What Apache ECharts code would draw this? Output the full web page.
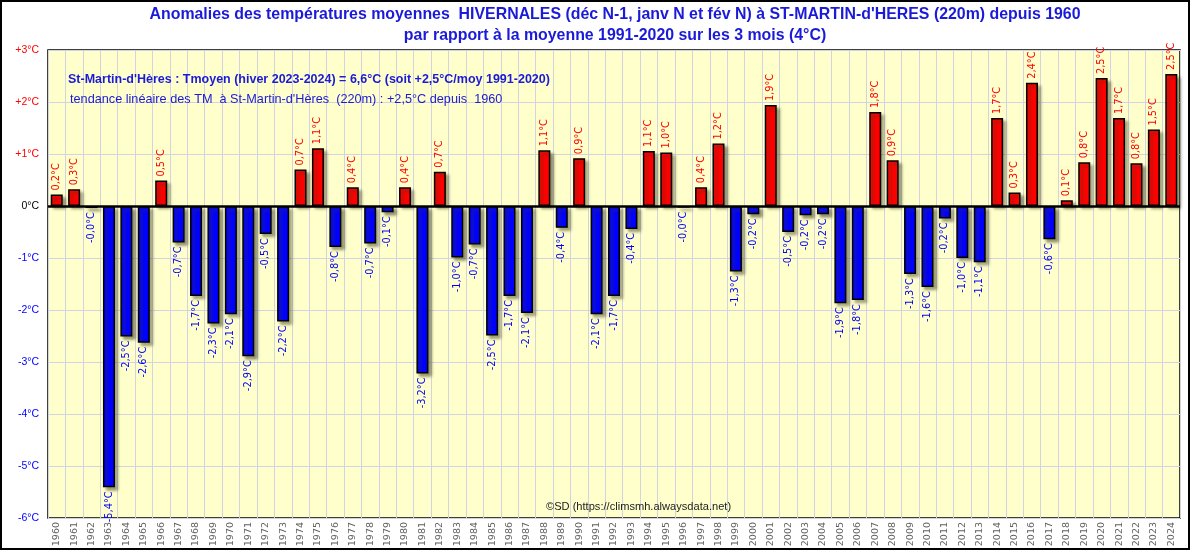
<!DOCTYPE html>
<html>
<head>
<meta charset="utf-8">
<script src="https://cdn.jsdelivr.net/npm/echarts@6/dist/echarts.min.js"></script>
<style>
html,body{margin:0;padding:0;background:#fff;}
#chart{width:1190px;height:550px;}
</style>
</head>
<body>
<div id="chart"></div>
<script>
const years = ['1960','1961','1962','1963','1964','1965','1966','1967','1968','1969',
  '1970','1971','1972','1973','1974','1975','1976','1977','1978','1979',
  '1980','1981','1982','1983','1984','1985','1986','1987','1988','1989',
  '1990','1991','1992','1993','1994','1995','1996','1997','1998','1999',
  '2000','2001','2002','2003','2004','2005','2006','2007','2008','2009',
  '2010','2011','2012','2013','2014','2015','2016','2017','2018','2019',
  '2020','2021','2022','2023','2024'];
const anomalies = [0.22,0.32,-0.04,-5.41,-2.51,-2.63,0.49,-0.70,-1.73,-2.26,
  -2.08,-2.89,-0.54,-2.22,0.70,1.11,-0.79,0.36,-0.72,-0.12,
  0.36,-3.22,0.66,-0.99,-0.74,-2.49,-1.73,-2.06,1.07,-0.42,
  0.92,-2.08,-1.73,-0.44,1.06,1.03,-0.03,0.36,1.20,-1.26,
  -0.16,1.94,-0.50,-0.18,-0.16,-1.87,-1.81,1.81,0.88,-1.31,
  -1.56,-0.24,-1.00,-1.08,1.69,0.26,2.37,-0.64,0.11,0.84,
  2.46,1.69,0.82,1.47,2.54];
const yMin = -6, yMax = 3, yStep = 1;
const titleLines = [
  "Anomalies des températures moyennes  HIVERNALES (déc N-1, janv N et fév N) à ST-MARTIN-d'HERES (220m) depuis 1960",
  "par rapport à la moyenne 1991-2020 sur les 3 mois (4°C)"
];
const noteLines = [
  "St-Martin-d'Hères : Tmoyen (hiver 2023-2024) = 6,6°C (soit +2,5°C/moy 1991-2020)",
  "tendance linéaire des TM  à St-Martin-d'Hères  (220m) : +2,5°C depuis  1960"
];
const credit = "©SD (https://climsmh.alwaysdata.net)";

const fmt = v => v.toFixed(1).replace('.', ',') + '°C';
const data = anomalies.map(v => {
  const pos = v >= 0;
  return {
    value: v,
    itemStyle: { color: pos ? '#ff0000' : '#0000ff' },
    label: {
      position: pos ? 'top' : 'bottom',
      align: pos ? 'left' : 'right',
      color: pos ? '#ff0000' : '#0000ff'
    }
  };
});

const chart = echarts.init(document.getElementById('chart'), null, {renderer: 'canvas'});
chart.setOption({
  animation: false,
  backgroundColor: '#ffffff',
  grid: {
    left: 48, right: 10, top: 50, bottom: 32,
    show: true, backgroundColor: '#ffffcc', borderColor: '#000000', borderWidth: 1.5
  },
  xAxis: {
    type: 'category',
    data: years,
    boundaryGap: true,
    axisLine: { show: false },
    axisTick: { show: false },
    splitLine: { show: true, interval: 0, lineStyle: { color: '#d2d2e0', width: 1 } },
    axisLabel: {
      interval: 0, rotate: 90, margin: 4,
      color: '#606060', fontFamily: 'DejaVu Sans', fontSize: 9.5
    }
  },
  yAxis: {
    type: 'value',
    min: yMin, max: yMax, interval: yStep,
    axisLine: { show: false },
    axisTick: { show: false },
    splitLine: { show: true, lineStyle: { color: '#d2d2e0', width: 1 } },
    axisLabel: {
      margin: 9,
      fontFamily: 'Liberation Sans', fontSize: 10.5,
      formatter: v => v > 0 ? '+' + v + '°C' : v + '°C',
      color: v => v > 0 ? '#ff0000' : (v < 0 ? '#0000ff' : '#000000')
    }
  },
  series: [{
    type: 'bar',
    data: data,
    barWidth: 12,
    itemStyle: {
      borderColor: '#000000', borderWidth: 1.5,
      shadowColor: 'rgba(60,60,30,0.55)', shadowBlur: 3, shadowOffsetX: 3, shadowOffsetY: 3
    },
    label: {
      show: true, rotate: 90, distance: 4, verticalAlign: 'middle',
      fontFamily: 'DejaVu Sans', fontSize: 9.8,
      formatter: p => fmt(p.value)
    },
    markLine: {
      silent: true, symbol: 'none', label: { show: false },
      lineStyle: { color: '#000000', width: 2.5, type: 'solid' },
      data: [{ yAxis: 0 }]
    }
  }],
  graphic: [
    { type: 'rect', shape: { x: 1, y: 1, width: 1188, height: 548 },
      style: { fill: 'none', stroke: '#000', lineWidth: 2 }, z: 100 },
    { type: 'text', x: 615, y: 15, style: { text: titleLines[0], fill: '#1a1ad8',
      font: 'bold 15.9px "Liberation Sans"', textAlign: 'center', textVerticalAlign: 'middle' } },
    { type: 'text', x: 615, y: 36, style: { text: titleLines[1], fill: '#1a1ad8',
      font: 'bold 15.9px "Liberation Sans"', textAlign: 'center', textVerticalAlign: 'middle' } },
    { type: 'text', x: 68, y: 80, z: 50, style: { text: noteLines[0], fill: '#1a1ad8',
      font: 'bold 12.5px "Liberation Sans"', textAlign: 'left', textVerticalAlign: 'middle' } },
    { type: 'text', x: 70, y: 99, z: 50, style: { text: noteLines[1], fill: '#1a1ad8',
      font: '12.7px "Liberation Sans"', textAlign: 'left', textVerticalAlign: 'middle' } },
    { type: 'text', x: 546, y: 507, z: 50, style: { text: credit, fill: '#222222',
      font: '11.1px "Liberation Sans"', textAlign: 'left', textVerticalAlign: 'middle' } }
  ]
});
</script>
</body>
</html>
